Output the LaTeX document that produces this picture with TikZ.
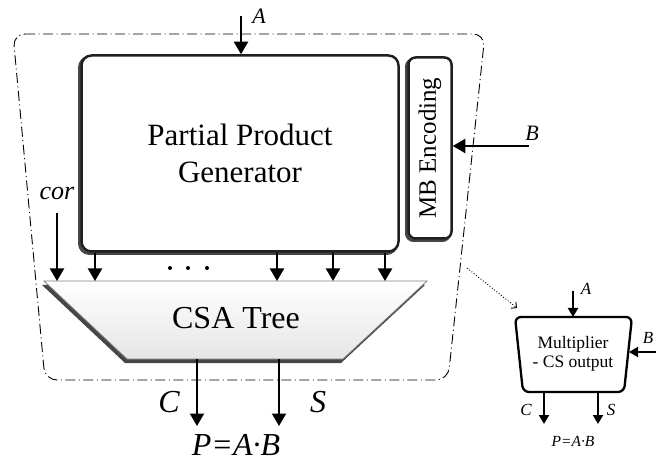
\documentclass[tikz,border=0pt]{standalone}
\usepackage{fontspec}
\setmainfont{Liberation Serif}
\usetikzlibrary{arrows.meta}
\begin{document}
\begin{tikzpicture}[x=1pt,y=-1pt,
  arr/.style={line width=2pt,-{Triangle[length=12.5pt,width=14pt]}},
  sarr/.style={line width=2pt,-{Triangle[length=9pt,width=10pt]}},
  biglab/.style={inner sep=0pt,font=\fontsize{32}{32}\selectfont\itshape},
  midlab/.style={inner sep=0pt,font=\fontsize{22}{22}\selectfont\itshape},
  smalllab/.style={inner sep=0pt,font=\fontsize{17}{17}\selectfont\itshape},
  boxline/.style={draw=gray!25!black,line width=2.5pt,rounded corners=10pt,fill=white},
  boxshadow/.style={draw=gray!55!black,line width=3pt,rounded corners=10pt},
  border/.style={line width=0.9pt,dash pattern=on 10pt off 3.5pt on 1pt off 3.5pt,rounded corners=12pt}
]
\useasboundingbox (0,0) rectangle (656,462);

% dash-dot boundary
\draw[border] (13,34) -- (485,34) -- (448,380) -- (45,380) -- cycle;

% Partial product generator
\node[boxshadow, minimum width=317pt, minimum height=196pt] at (238,155.5) {};
\node[boxline, minimum width=317pt, minimum height=196pt, align=center,
      font=\fontsize{31}{37}\selectfont] (ppg) at (240,153.5) {Partial Product\\Generator};

% MB encoding
\node[boxshadow, rounded corners=7pt, rotate=90, minimum width=181pt, minimum height=43pt] at (428,150) {};
\node[boxline, rounded corners=7pt, rotate=90, minimum width=181pt, minimum height=43pt,
      font=\fontsize{25}{25}\selectfont] (mb) at (430,148) {MB Encoding};

% inputs A, B
\coordinate (Ain) at (241,16);
\draw[arr] (Ain) -- (ppg.north -| Ain);
\node[midlab] (Alab) at (259,16) {A};
\coordinate (Bin) at (529,146);
\draw[arr] (Bin) -- (mb.south |- Bin);
\node[midlab] (Blab) at (532,133) {B};

% CSA tree
\fill[gray!55!black] (42,285) -- (425,285) -- (341,363) -- (125,363) -- cycle;
\draw[gray, line width=0.8pt, top color=white, bottom color=gray!20]
  (44,281) -- (427,281) -- (343,359) -- (127,359) -- cycle;
\node[font=\fontsize{32}{32}\selectfont] (csa) at (236,318) {CSA Tree};
\coordinate (csatop) at (236,281);
\coordinate (csabot) at (236,359);

% partial products
\foreach \x in {95,277,333,385}
  \draw[arr] (ppg.south -| \x,0) -- (csatop -| \x,0);
\foreach \x in {170,188,207}
  \fill (\x,268) circle (2pt);

% cor
\coordinate (corin) at (57,213);
\draw[arr] (corin) -- (csatop -| corin);
\node[inner sep=0pt,font=\fontsize{26}{26}\selectfont\itshape] (corlab) at (57,194) {cor};

% outputs
\coordinate (Cout) at (197,426);
\coordinate (Sout) at (279,426);
\draw[arr] (csabot -| Cout) -- (Cout);
\draw[arr] (csabot -| Sout) -- (Sout);
\node[biglab] (Clab) at (169,402) {C};
\node[biglab] (Slab) at (318,402) {S};
\node[biglab] (Plab) at (236,445) {P=A·B};

% dotted pointer
\coordinate (dotstart) at (467,268);
\coordinate (dotend) at (517,308);
\draw[dotted, line width=0.9pt, -{Straight Barb[length=4pt,width=8pt]}] (dotstart) -- (dotend);

% small multiplier
\draw[line width=2.3pt, rounded corners=6pt] (515,317) -- (632,317) -- (624,392) -- (523,392) -- cycle;
\node[align=center, font=\fontsize{17.5}{19}\selectfont] (mult) at (573,354) {Multiplier\\- CS output};
\coordinate (mtop) at (573,317);
\coordinate (mbot) at (573,392);
\coordinate (sAin) at (573,291);
\draw[sarr] (sAin) -- (mtop);
\node[smalllab] (sAlab) at (586,289) {A};
\coordinate (sBin) at (662,352);
\draw[sarr] (sBin) -- (629,352);
\node[smalllab] (sBlab) at (648,338) {B};
\coordinate (sCout) at (544,424);
\coordinate (sSout) at (598,424);
\draw[sarr] (mbot -| sCout) -- (sCout);
\draw[sarr] (mbot -| sSout) -- (sSout);
\node[smalllab] (sClab) at (526,410) {C};
\node[smalllab] (sSlab) at (611,410) {S};
\node[inner sep=0pt,font=\fontsize{15.5}{15.5}\selectfont\itshape] (sPlab) at (573,441) {P=A·B};
\end{tikzpicture}
\end{document}
